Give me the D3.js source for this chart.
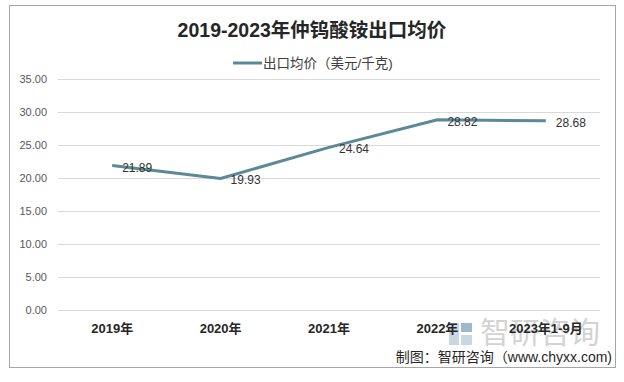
<!DOCTYPE html>
<html><head><meta charset="utf-8">
<script src="https://cdn.jsdelivr.net/npm/d3@7/dist/d3.min.js"></script>
<style>body{margin:0;background:#fff}svg{display:block}</style>
</head><body>
<svg id="c" width="624" height="382"></svg>
<script>
const categories = ["2019年","2020年","2021年","2022年","2023年1-9月"];
const values = [21.89, 19.93, 24.64, 28.82, 28.68];
const yTicks = [0,5,10,15,20,25,30,35];
const seriesName = "出口均价（美元/千克)";
const title = "2019-2023年仲钨酸铵出口均价";
const source = "制图：智研咨询（www.chyxx.com)";

const svg = d3.select("#c");
const font = "'Liberation Sans','Noto Sans CJK SC',sans-serif";
svg.append("rect").attr("x",9.5).attr("y",5.5).attr("width",606).attr("height",362)
  .attr("fill","#fff").attr("stroke","#a6a6a6").attr("stroke-width",1);

const x = d3.scaleBand().domain(categories).range([58,600]);
const y = d3.scaleLinear().domain([0,35]).range([310,79]);

// grid
const yAxis = d3.axisLeft(y).tickValues(yTicks).tickFormat(d3.format(".2f")).tickSize(-(600-58)).tickPadding(11);
const ga = svg.append("g").attr("transform","translate(58,0)").call(yAxis);
ga.select(".domain").remove();
ga.selectAll(".tick line").attr("stroke","#d9d9d9").attr("stroke-width",1);
ga.selectAll(".tick text").attr("fill","#595959").style("font-family",font).style("font-size","11px");

// watermark
svg.append("rect").attr("x",449).attr("y",323).attr("width",10).attr("height",22).attr("fill","#c9d6e3");
svg.append("rect").attr("x",461).attr("y",323).attr("width",11).attr("height",9).attr("fill","#9fb8d0");
svg.append("rect").attr("x",461).attr("y",335).attr("width",11).attr("height",10).attr("fill","#c9d6e3");
svg.append("text").attr("x",480).attr("y",343).text("智研咨询")
  .attr("fill","#d3d3d3").style("font-family",font).style("font-size","30px");

const xAxis = d3.axisBottom(x).tickSize(0).tickPadding(14);
const gx = svg.append("g").attr("transform","translate(0,310)").call(xAxis);
gx.select(".domain").remove();
gx.selectAll(".tick text").attr("fill","#262626").style("font-family",font).style("font-size","13px").style("font-weight","bold");

const line = d3.line().x((d,i)=>x(categories[i])+x.bandwidth()/2).y(d=>y(d));
svg.append("path").datum(values).attr("d",line).attr("fill","none")
  .attr("stroke","#5b8a96").attr("stroke-width",3).attr("stroke-linejoin","round");

svg.selectAll(".lbl").data(values).enter().append("text")
  .attr("x",(d,i)=>x(categories[i])+x.bandwidth()/2+10)
  .attr("y",d=>y(d)+6)
  .text(d=>d.toFixed(2))
  .attr("fill","#333").style("font-family",font).style("font-size","12px");

// title
svg.append("text").attr("x",312).attr("y",37).attr("text-anchor","middle").text(title)
  .attr("fill","#262626").style("font-family",font).style("font-size","19.5px").style("font-weight","bold");

// legend
svg.append("line").attr("x1",233).attr("x2",262).attr("y1",63).attr("y2",63).attr("stroke","#5b8a96").attr("stroke-width",3);
svg.append("text").attr("x",263).attr("y",68).text(seriesName)
  .attr("fill","#404040").style("font-family",font).style("font-size","13.5px");

svg.append("text").attr("x",612).attr("y",362).attr("text-anchor","end").text(source)
  .attr("fill","#262626").style("font-family",font).style("font-size","14px");
</script>
</body></html>
